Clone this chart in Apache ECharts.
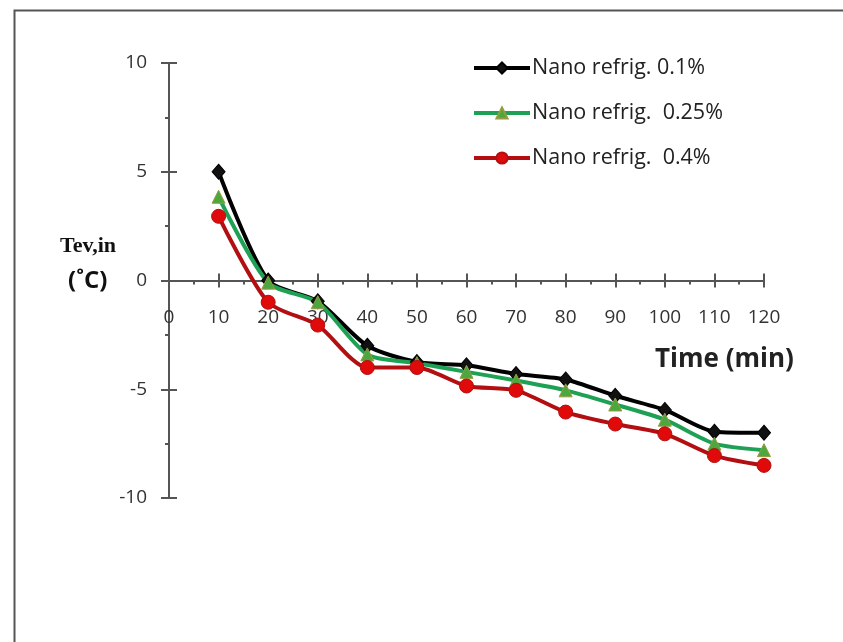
<!DOCTYPE html>
<html>
<head>
<meta charset="utf-8">
<script src="https://cdn.jsdelivr.net/npm/echarts@6/dist/echarts.min.js"></script>
<style>
html,body{margin:0;padding:0;background:#fff;}
#c{width:843px;height:642px;}
</style>
</head>
<body>
<div id="c"></div>
<script>
var timeMin = [10, 20, 30, 40, 50, 60, 70, 80, 90, 100, 110, 120];
var nano01  = [5.0, 0.0, -0.95, -3.0, -3.75, -3.9, -4.3, -4.55, -5.3, -5.95, -6.95, -7.0];
var nano025 = [3.85, -0.1, -1.0, -3.4, -3.8, -4.2, -4.6, -5.05, -5.7, -6.4, -7.5, -7.8];
var nano04  = [2.95, -1.0, -2.05, -4.0, -4.0, -4.85, -5.05, -6.05, -6.6, -7.05, -8.05, -8.5];
var seriesNames = ['Nano refrig. 0.1%', 'Nano refrig.  0.25%', 'Nano refrig.  0.4%'];
var xTitle = 'Time (min)';
var yTitle1 = 'Tev,in';
var yTitle2 = '(\u02DAC)';

function pairs(ys){ return timeMin.map(function(t,i){ return [t, ys[i]]; }); }

var chart = echarts.init(document.getElementById('c'), null, {renderer:'canvas'});
var axisColor = '#555';
var labelFont = {color:'#333', fontSize:19, fontFamily:'Open Sans'};

var option = {
  animation:false,
  backgroundColor:'#fff',
  grid:{left:169, right:79, top:63, bottom:144, containLabel:false},
  legend:{
    orient:'vertical', left:467, top:52, itemWidth:56, itemHeight:14, itemGap:23,
    lineStyle:{width:4},
    textStyle:{fontSize:21.5, fontFamily:'Open Sans', color:'#222', padding:[0,0,0,-3]},
    data:seriesNames
  },
  xAxis:[{
    type:'value', min:0, max:120, interval:10, position:'bottom',
    axisLine:{onZero:true, lineStyle:{color:axisColor, width:2}},
    axisTick:{show:true, inside:false, length:7, lineStyle:{color:axisColor, width:2}},
    minorTick:{show:true, splitNumber:2, length:4, lineStyle:{color:axisColor, width:2}},
    axisLabel:Object.assign({margin:-190}, labelFont),
    splitLine:{show:false}
  },{
    type:'value', min:0, max:120, interval:10, position:'bottom',
    axisLine:{onZero:true, lineStyle:{color:axisColor, width:2}},
    axisTick:{show:true, inside:true, length:7, lineStyle:{color:axisColor, width:2}},
    axisLabel:{show:false},
    splitLine:{show:false}
  }],
  yAxis:[{
    type:'value', min:-10, max:10, interval:5, position:'left',
    axisLine:{show:true, onZero:false, lineStyle:{color:axisColor, width:2}},
    axisTick:{show:true, inside:false, length:8, lineStyle:{color:axisColor, width:2}},
    minorTick:{show:true, splitNumber:2, length:4, lineStyle:{color:axisColor, width:2}},
    axisLabel:Object.assign({margin:22}, labelFont),
    splitLine:{show:false}
  },{
    type:'value', min:-10, max:10, interval:5, position:'left',
    axisLine:{show:true, onZero:false, lineStyle:{color:axisColor, width:2}},
    axisTick:{show:true, inside:true, length:8, lineStyle:{color:axisColor, width:2}},
    axisLabel:{show:false},
    splitLine:{show:false}
  }],
  series:[{
    name:seriesNames[0], type:'line', data:pairs(nano01), smooth:0.25,
    symbol:'diamond', symbolSize:[13,15],
    lineStyle:{color:'#000', width:4},
    itemStyle:{color:'#111', borderColor:'#000', borderWidth:1}
  },{
    name:seriesNames[1], type:'line', data:pairs(nano025), smooth:0.25,
    symbol:'triangle', symbolSize:13,
    lineStyle:{color:'#1ea155', width:4},
    itemStyle:{color:'#4aa83f', borderColor:'#9a9a40', borderWidth:1}
  },{
    name:seriesNames[2], type:'line', data:pairs(nano04), smooth:0.25,
    symbol:'circle', symbolSize:14,
    lineStyle:{color:'#b30f12', width:4},
    itemStyle:{color:'#e00a0a', borderColor:'#b01010', borderWidth:1}
  }],
  graphic:[
    {type:'rect', left:12, top:8, shape:{width:840, height:660}, style:{fill:'none', stroke:'#555', lineWidth:2}, silent:true},
    {type:'text', left:60, top:235, style:{text:yTitle1, font:'bold 22px "Liberation Serif"', fill:'#111'}},
    {type:'text', left:68, top:269, style:{text:yTitle2, font:'bold 24px "Open Sans"', fill:'#111'}},
    {type:'text', left:655, top:347, style:{text:xTitle, font:'bold 26px "Open Sans"', fill:'#222'}}
  ]
};
chart.setOption(option);
</script>
</body>
</html>
